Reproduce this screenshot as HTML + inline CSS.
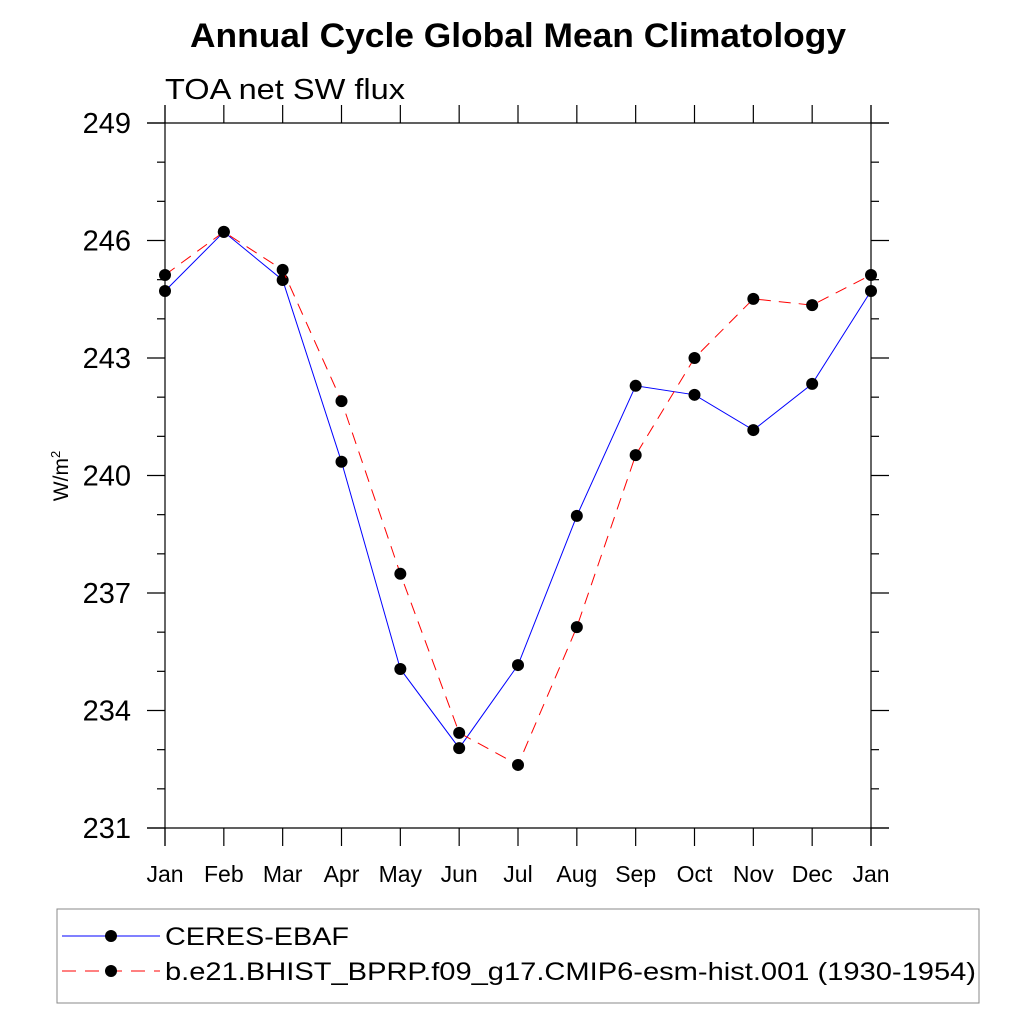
<!DOCTYPE html>
<html><head><meta charset="utf-8"><style>body{margin:0;background:#fff}svg{display:block;font-family:"Liberation Sans",sans-serif}</style></head>
<body>
<svg id="c" width="1024" height="1024" viewBox="0 0 1024 1024">
<text x="518" y="47" text-anchor="middle" font-size="34" font-weight="bold" textLength="656" lengthAdjust="spacingAndGlyphs">Annual Cycle Global Mean Climatology</text>
<text x="165" y="99" font-size="29" textLength="240" lengthAdjust="spacingAndGlyphs">TOA net SW flux</text>
<text transform="translate(68,476) rotate(-90)" text-anchor="middle" font-size="21">W/m<tspan dy="-8" font-size="13">2</tspan></text>
<g id="axes"></g><g id="series"></g>
<rect x="57" y="909" width="922" height="94" fill="none" stroke="#888" stroke-width="1"/>
<g>
<line x1="62" y1="936" x2="160" y2="936" stroke="#00f" stroke-width="1"/><circle cx="111" cy="936" r="6"/>
<text x="165" y="945" font-size="25" textLength="184" lengthAdjust="spacingAndGlyphs">CERES-EBAF</text></g>
<g>
<line x1="62" y1="971" x2="160" y2="971" stroke="#f00" stroke-width="1" stroke-dasharray="14,9"/><circle cx="111" cy="971" r="6"/>
<text x="165" y="980" font-size="25" textLength="811" lengthAdjust="spacingAndGlyphs">b.e21.BHIST_BPRP.f09_g17.CMIP6-esm-hist.001 (1930-1954)</text></g>
</svg>
<script>
const months=["Jan","Feb","Mar","Apr","May","Jun","Jul","Aug","Sep","Oct","Nov","Dec","Jan"];
const yTicks=[231,234,237,240,243,246,249];
const ceres=[244.71,246.22,244.99,240.35,235.06,233.04,235.16,238.97,242.29,242.06,241.16,242.34,244.71];
const model=[245.12,246.22,245.25,241.90,237.49,233.43,232.61,236.13,240.52,243.00,244.51,244.35,245.12];
const NS="http://www.w3.org/2000/svg";
const X0=165,X1=871,Y0=828,Y1=123,ymin=231,ymax=249;
const xs=i=>X0+i*(X1-X0)/12, ys=v=>Y0-(v-ymin)*(Y0-Y1)/(ymax-ymin);
function mk(p,t,a){const e=document.createElementNS(NS,t);for(const k in a)e.setAttribute(k,a[k]);p.appendChild(e);return e;}
const ax=document.getElementById('axes');
const ln={stroke:"#000","stroke-width":1.2};
mk(ax,'line',{x1:X0,y1:105,x2:X0,y2:846,...ln});
mk(ax,'line',{x1:X1,y1:105,x2:X1,y2:846,...ln});
mk(ax,'line',{x1:147,y1:Y1,x2:889,y2:Y1,...ln});
mk(ax,'line',{x1:147,y1:Y0,x2:889,y2:Y0,...ln});
months.forEach((m,i)=>{const x=xs(i);
 mk(ax,'line',{x1:x,y1:Y0,x2:x,y2:846,...ln});mk(ax,'line',{x1:x,y1:Y1,x2:x,y2:105,...ln});
 const t=mk(ax,'text',{x:x,y:882,"text-anchor":"middle","font-size":23});t.textContent=m;
 
 });
for(let v=ymin;v<=ymax;v++){const y=ys(v),maj=yTicks.includes(v);
 mk(ax,'line',{x1:maj?147:157,y1:y,x2:X0,y2:y,...ln});mk(ax,'line',{x1:X1,y1:y,x2:maj?889:879,y2:y,...ln});}
yTicks.forEach(v=>{const t=mk(ax,'text',{x:131,y:ys(v)+10,"text-anchor":"end","font-size":29});t.textContent=v;
 
 });
const sg=document.getElementById('series');
function draw(d,col,dash,name){
 const pl=mk(sg,'polyline',{points:d.map((v,i)=>xs(i)+","+ys(v)).join(" "),fill:"none",stroke:col,"stroke-width":1,"stroke-dasharray":dash});
 
 
 d.forEach((v,i)=>{const c=mk(sg,'circle',{cx:xs(i),cy:ys(v),r:6});
  
  });
}
draw(ceres,"#00f","none","ceres");
draw(model,"#f00","12,8","model");
</script>
</body></html>
